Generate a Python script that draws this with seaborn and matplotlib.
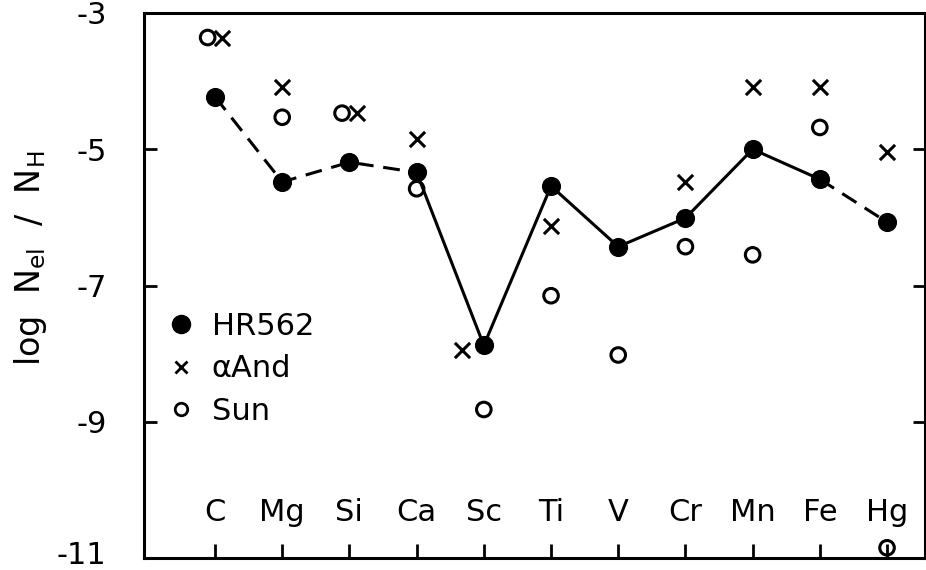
import numpy as np
import pandas as pd
import matplotlib
matplotlib.use("Agg")
import matplotlib.pyplot as plt
import matplotlib.transforms as mtransforms
import seaborn as sns
from matplotlib.lines import Line2D

# ---- data ----
elements = ["C", "Mg", "Si", "Ca", "Sc", "Ti", "V", "Cr", "Mn", "Fe", "Hg"]
hr562 = [-4.23, -5.48, -5.19, -5.34, -7.88, -5.54, -6.43, -6.01, -5.00, -5.44, -6.07]
alpha_and = [-3.36, -4.09, -4.47, -4.85, -7.95, -6.12, np.nan, -5.48, -4.09, -4.09, -5.04]
sun = [-3.36, -4.53, -4.47, -5.58, -8.82, -7.15, -8.02, -6.43, -6.55, -4.68, -10.85]
y_ticks = [-3, -5, -7, -9, -11]
y_ticklabels = ["-3", "-5", "-7", "-9", "-11"]

sns.set_style("ticks")
plt.rcParams["font.family"] = ["DejaVu Sans"]
plt.rcParams["axes.unicode_minus"] = False
plt.rcParams["mathtext.default"] = "regular"
for key in ["text.color", "axes.labelcolor", "xtick.color", "ytick.color", "axes.edgecolor"]:
    plt.rcParams[key] = "black"

fig = plt.figure(figsize=(9.26, 5.70), dpi=100)
ax = fig.add_axes([144 / 926, 12 / 570, 781 / 926, 545 / 570])

x = np.arange(len(elements), dtype=float)
hr = np.array(hr562)
aa = np.array(alpha_and)
su = np.array(sun)

# side-by-side placement where symbols would overlap
same = np.isclose(su, aa, atol=0.05)
sun_x = x - np.where(same, 0.11, 0.0)
and_x = x + np.where(same, 0.11, 0.0) - np.where(np.abs(aa - hr) < 0.15, 0.33, 0.0)

df = pd.DataFrame({"x": x, "v": hr})
dash = (0, (5.5, 3.2))
sns.lineplot(data=df.iloc[0:4], x="x", y="v", ax=ax, color="black", lw=2.2,
             linestyle=dash, sort=False)
sns.lineplot(data=df.iloc[3:10], x="x", y="v", ax=ax, color="black", lw=2.2,
             linestyle="-", sort=False)
sns.lineplot(data=df.iloc[9:11], x="x", y="v", ax=ax, color="black", lw=2.2,
             linestyle=dash, sort=False)

sns.scatterplot(x=x, y=hr, ax=ax, marker="o", s=190, color="black",
                edgecolor="black", linewidth=0, zorder=4)
sns.scatterplot(x=and_x, y=aa, ax=ax, marker="x", s=120, color="black",
                linewidth=2.2, zorder=4)
sns.scatterplot(x=sun_x, y=su, ax=ax, marker="o", s=110, facecolor="none",
                edgecolor="black", linewidth=2.2, zorder=4)

for xi, el in zip(x, elements):
    ax.text(xi, -10.45, el, ha="center", va="baseline", fontsize=22)

ax.set_xlim(-1.057, 10.565)
ax.set_ylim(-11, -3)
ax.set_xticks(x)
ax.set_xticklabels([])
ax.set_yticks(y_ticks)
ax.set_yticklabels(y_ticklabels)
ax.tick_params(axis="x", direction="in", length=10, width=2, top=False, bottom=True)
ax.tick_params(axis="y", direction="in", length=9, width=2, left=True, right=True,
               labelsize=22, pad=27)
for sp in ax.spines.values():
    sp.set_linewidth(2.2)
    sp.set_color("black")
    sp.set_visible(True)

# nudge the bottom tick label up so it stays inside the figure
lab = ax.get_yticklabels()[-1]
lab.set_transform(lab.get_transform() +
                  mtransforms.ScaledTranslation(0, 5 / 100, fig.dpi_scale_trans))

ax.set_xlabel("")
ax.set_ylabel("log  N$_{el}$  /  N$_{H}$", fontsize=24)
ax.yaxis.set_label_coords(-0.122, 0.55)

handles = [
    Line2D([], [], marker="o", color="black", ls="none", markersize=13),
    Line2D([], [], marker="x", color="black", ls="none", markersize=9, markeredgewidth=2),
    Line2D([], [], marker="o", color="black", markerfacecolor="none", ls="none",
           markersize=9, markeredgewidth=2),
]
ax.legend(handles, ["HR562", "αAnd", "Sun"], loc="upper left",
          bbox_to_anchor=(0.028, 0.452), frameon=False, fontsize=22,
          handlelength=1.0, handletextpad=0.5, labelspacing=0.45,
          borderpad=0, borderaxespad=0)

fig.savefig("out.png", dpi=100)
